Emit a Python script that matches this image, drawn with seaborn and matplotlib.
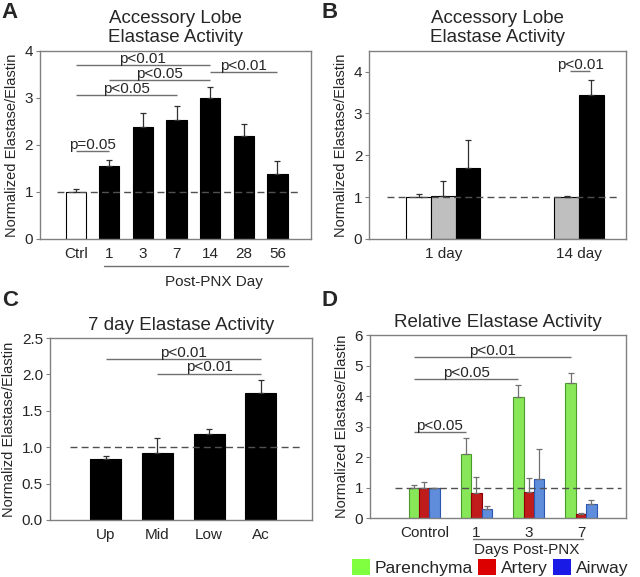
import numpy as np
import pandas as pd
import matplotlib
matplotlib.use("Agg")
import matplotlib.pyplot as plt
from matplotlib.patches import Patch
import seaborn as sns

# ── data ─────────────────────────────────────────────────────────────────────
a_labels = ["Ctrl", "1", "3", "7", "14", "28", "56"]
a_vals   = [1.00, 1.56, 2.37, 2.52, 2.99, 2.19, 1.38]
a_err    = [0.07, 0.12, 0.30, 0.30, 0.24, 0.26, 0.28]
a_sig    = [("Ctrl", "14", 3.70, "p<0.01"), ("1", "14", 3.37, "p<0.05"),
            ("Ctrl", "7", 3.06, "p<0.05"), ("14", "56", 3.55, "p<0.01"),
            ("Ctrl", "1", 1.86, "p=0.05")]

b_days   = ["1 day", "1 day", "1 day", "14 day", "14 day"]
b_groups = ["Baseline", "Sham", "PNX", "Sham", "PNX"]
b_vals   = [1.00, 1.02, 1.69, 1.00, 3.44]
b_err    = [0.07, 0.37, 0.68, 0.02, 0.37]

c_labels = ["Up", "Mid", "Low", "Ac"]
c_vals   = [0.835, 0.925, 1.175, 1.74]
c_err    = [0.04, 0.20, 0.07, 0.19]
c_sig    = [("Up", "Ac", 2.21, "p<0.01"), ("Mid", "Ac", 2.01, "p<0.01")]

d_days    = ["Control", "1", "3", "7"]
d_tissues = ["Parenchyma", "Artery", "Airway"]
d_par     = [1.00, 2.10, 3.97, 4.43]
d_par_err = [0.09, 0.54, 0.41, 0.33]
d_art     = [1.00, 0.82, 0.86, 0.14]
d_art_err = [0.19, 0.52, 0.46, 0.04]
d_air     = [1.00, 0.285, 1.29, 0.48]
d_air_err = [0.00, 0.10, 0.98, 0.11]
d_sig     = [("1", 2.81, "p<0.05"), ("3", 4.57, "p<0.05"), ("7", 5.27, "p<0.01")]

# ── style ────────────────────────────────────────────────────────────────────
sns.set_theme(style="white", rc={"axes.edgecolor": "#808080", "axes.linewidth": 1.0})
plt.rcParams["font.family"] = ["Liberation Sans", "DejaVu Sans"]
GRAY = "#707070"
YLAB = "Normalized Elastase/Elastin"

fig = plt.figure(figsize=(6.4, 5.77), dpi=100)
axA = fig.add_axes([0.0625, 0.586, 0.4235, 0.326])
axB = fig.add_axes([0.577, 0.586, 0.401, 0.326])
axC = fig.add_axes([0.078, 0.099, 0.4095, 0.315])
axD = fig.add_axes([0.578, 0.102, 0.400, 0.317])


def style_ax(ax, title, ylabel):
    ax.set_title(title, fontsize=13.5, pad=6)
    ax.set_ylabel(ylabel, fontsize=10.5, labelpad=4)
    ax.set_xlabel("")
    ax.tick_params(axis="y", direction="out", length=3, width=0.8, color="#808080",
                   labelsize=11, pad=2, left=True)
    ax.tick_params(axis="x", length=0, labelsize=11, pad=6)


def upper_errors(ax, bars, errs, color="#303030"):
    xs = [b.get_x() + b.get_width() / 2 for b in bars]
    hs = [b.get_height() for b in bars]
    ax.errorbar(xs, hs, yerr=[np.zeros(len(errs)), errs], fmt="none",
                ecolor=color, elinewidth=0.9, capsize=2.2, capthick=0.9, zorder=3)


def sig_bar(ax, x0, x1, y, text):
    ax.plot([x0, x1], [y, y], color=GRAY, lw=1.0, solid_capstyle="butt", zorder=4)
    ax.text((x0 + x1) / 2, y - 0.004 * ax.get_ylim()[1], text, ha="center", va="bottom",
            fontsize=11, zorder=5)


def ref_line(ax, x0, x1):
    ax.plot([x0, x1], [1, 1], color="#505050", lw=1.0, dashes=(5, 3), zorder=2)


# ── A ────────────────────────────────────────────────────────────────────────
dfA = pd.DataFrame({"day": a_labels, "val": a_vals})
sns.barplot(data=dfA, x="day", y="val", order=a_labels, color="black",
            edgecolor="black", linewidth=0.8, width=0.6, errorbar=None, ax=axA)
barsA = list(axA.containers[0])
barsA[0].set_facecolor("white")
ref_line(axA, -0.56, len(a_labels) - 0.34)
upper_errors(axA, barsA, a_err)
axA.set_ylim(0, 4)
axA.set_yticks([0, 1, 2, 3, 4])
axA.set_xlim(-1.06, len(a_labels))
for lo, hi, y, t in a_sig:
    sig_bar(axA, a_labels.index(lo), a_labels.index(hi), y, t)
style_ax(axA, "Accessory Lobe\nElastase Activity", YLAB)
trA = axA.get_xaxis_transform()
axA.plot([0.85, len(a_labels) - 0.7], [-0.144, -0.144], color=GRAY, lw=1.0,
         transform=trA, clip_on=False)
axA.text(4.1, -0.23, "Post-PNX Day", transform=trA, ha="center", va="center", fontsize=11)

# ── B ────────────────────────────────────────────────────────────────────────
b_day_order = ["1 day", "14 day"]
b_group_order = ["Baseline", "Sham", "PNX"]
b_colors = {"Baseline": "white", "Sham": "#bfbfbf", "PNX": "black"}
gap = 5  # slot offset between day groups
dfB = pd.DataFrame({"day": b_days, "group": b_groups, "val": b_vals, "err": b_err})
dfB["slot"] = [b_day_order.index(d) * gap + b_group_order.index(g)
               for d, g in zip(b_days, b_groups)]
dfB = dfB.sort_values("slot").reset_index(drop=True)
sns.barplot(data=dfB, x="slot", y="val", native_scale=True, color="black",
            edgecolor="black", linewidth=0.8, width=1.0, errorbar=None, ax=axB)
barsB = list(axB.containers[0])
for bar, g in zip(barsB, dfB["group"]):
    bar.set_facecolor(b_colors[g])
ref_line(axB, -1.3, 8.1)
upper_errors(axB, barsB, dfB["err"].values)
axB.set_ylim(0, 4.5)
axB.set_yticks([0, 1, 2, 3, 4])
axB.set_xlim(-2.0, 8.4)
centers = dfB.groupby("day")["slot"].mean()
axB.set_xticks([centers[d] for d in b_day_order])
axB.set_xticklabels(b_day_order)
s14 = dfB[dfB["day"] == "14 day"]["slot"].values
sig_bar(axB, s14[0] + 0.15, s14[1] - 0.05, 4.02, "p<0.01")
style_ax(axB, "Accessory Lobe\nElastase Activity", YLAB)

# ── C ────────────────────────────────────────────────────────────────────────
dfC = pd.DataFrame({"region": c_labels, "val": c_vals})
sns.barplot(data=dfC, x="region", y="val", order=c_labels, color="black",
            edgecolor="black", linewidth=0.8, width=0.6, errorbar=None, ax=axC)
barsC = list(axC.containers[0])
ref_line(axC, -0.69, 3.76)
upper_errors(axC, barsC, c_err)
axC.set_ylim(0, 2.5)
axC.set_yticks(np.arange(0, 2.51, 0.5))
axC.set_yticklabels([f"{v:.1f}" for v in np.arange(0, 2.51, 0.5)])
axC.set_xlim(-1.08, len(c_labels) - 0.01)
for lo, hi, y, t in c_sig:
    sig_bar(axC, c_labels.index(lo), c_labels.index(hi), y, t)
style_ax(axC, "7 day Elastase Activity", "Normalizd Elastase/Elastin")

# ── D ────────────────────────────────────────────────────────────────────────
d_face = {"Parenchyma": "#80ff40", "Artery": "#dd0000", "Airway": "#4a86f0"}
d_edge = {"Parenchyma": "#4c9a2a", "Artery": "#8b0000", "Airway": "#2a55b0"}
d_leg  = {"Parenchyma": "#80ff40", "Artery": "#dd0000", "Airway": "#1a1ae6"}
d_vals = {"Parenchyma": d_par, "Artery": d_art, "Airway": d_air}
d_errs = {"Parenchyma": d_par_err, "Artery": d_art_err, "Airway": d_air_err}
dfD = pd.DataFrame([{"day": d, "tissue": t, "val": d_vals[t][i]}
                    for t in d_tissues for i, d in enumerate(d_days)])
sns.barplot(data=dfD, x="day", y="val", hue="tissue", order=d_days, hue_order=d_tissues,
            palette=d_face, width=0.6, linewidth=0.8, errorbar=None, legend=False, ax=axD)
ref_line(axD, -0.56, 3.77)
for t, cont in zip(d_tissues, axD.containers):
    for bar in cont:
        bar.set_edgecolor(d_edge[t])
    upper_errors(axD, list(cont), d_errs[t], color=GRAY)
axD.set_ylim(0, 6)
axD.set_yticks(range(0, 7))
axD.set_xlim(-1.04, 3.86)
par_x = [b.get_x() + b.get_width() / 2 for b in axD.containers[0]]
for day, y, t in d_sig:
    sig_bar(axD, par_x[0], par_x[d_days.index(day)], y, t)
style_ax(axD, "Relative Elastase Activity", "Normalized Elastase/Elastin")
trD = axD.get_xaxis_transform()
axD.plot([0.94, 3.04], [-0.115, -0.115], color=GRAY, lw=1.0, transform=trD, clip_on=False)
axD.text(1.97, -0.172, "Days Post-PNX", transform=trD, ha="center", va="center", fontsize=11)
handles = [Patch(facecolor=d_leg[t], edgecolor="none", label=t) for t in d_tissues]
axD.legend(handles=handles, loc="center", bbox_to_anchor=(0.47, -0.27), ncol=3,
           frameon=False, fontsize=12.6, handlelength=1.0, handleheight=1.0,
           handletextpad=0.3, columnspacing=0.3, borderaxespad=0, borderpad=0)

# ── panel letters ────────────────────────────────────────────────────────────
for x, y, s in [(0.003, 0.997, "A"), (0.503, 0.997, "B"), (0.003, 0.497, "C"), (0.503, 0.497, "D")]:
    fig.text(x, y, s, fontsize=16, fontweight="bold", ha="left", va="top")

fig.savefig("out.png", dpi=100)
